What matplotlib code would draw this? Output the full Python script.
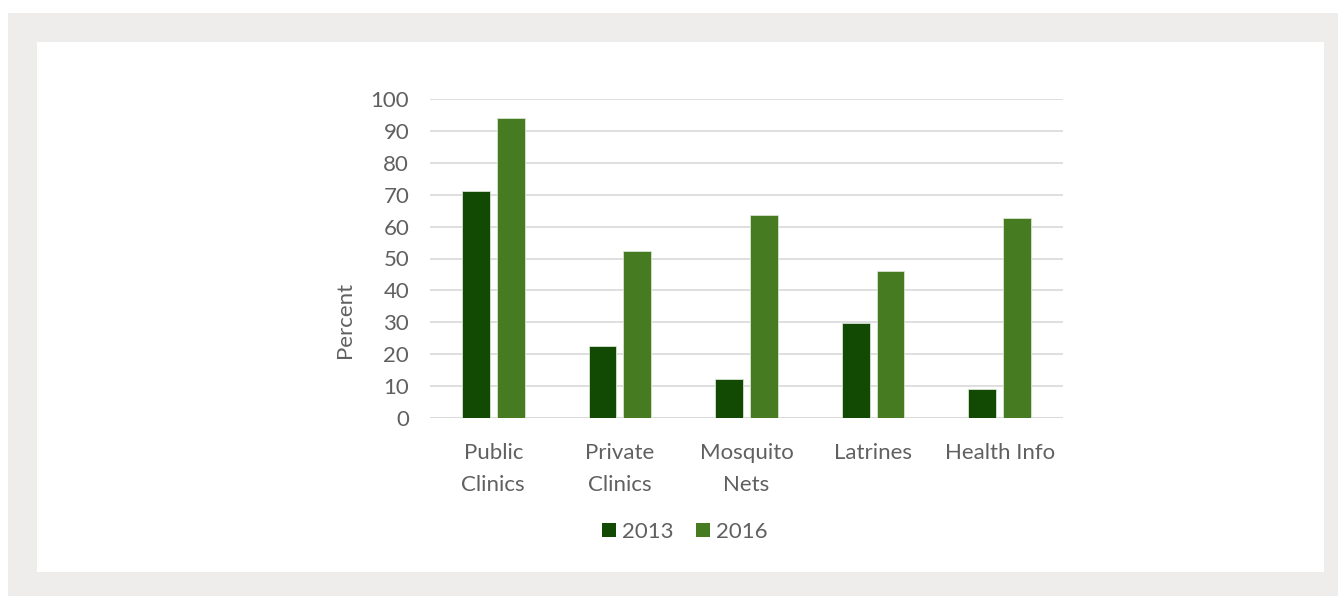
import matplotlib
matplotlib.use("Agg")
import matplotlib.pyplot as plt
import numpy as np
from matplotlib.patches import Rectangle, Patch

# data
categories = ["Public\nClinics", "Private\nClinics", "Mosquito\nNets", "Latrines", "Health Info"]
years = ["2013", "2016"]
vals_2013 = [71.2, 22.6, 12.2, 29.8, 9.2]
vals_2016 = [94.0, 52.2, 63.5, 46.2, 62.8]

col_2013 = "#124A04"
col_2016 = "#477B22"
txt = "#606060"

plt.rcParams["font.family"] = ["Lato", "DejaVu Sans"]
plt.rcParams["font.weight"] = "normal"

W, H = 1338, 596
fig = plt.figure(figsize=(W / 100, H / 100), dpi=100, facecolor="white")

# grey frame + white card
fig.patches.append(Rectangle((8 / W, 0), 1 - 8 / W, 1 - 13 / H, transform=fig.transFigure,
                             facecolor="#EEEDEB", edgecolor="none", zorder=-10))
fig.patches.append(Rectangle((37 / W, 24 / H), (1324 - 37) / W, (572 - 42) / H,
                             transform=fig.transFigure, facecolor="white",
                             edgecolor="none", zorder=-9))

ax = fig.add_axes([430 / W, 1 - 418 / H, (1063 - 430) / W, (418 - 99) / H])
ax.set_facecolor("none")

x = np.arange(len(categories))
bw = 0.22
off = 0.138
ax.bar(x - off, vals_2013, bw, color=col_2013, edgecolor="#d8e4d0", linewidth=0.6, zorder=3, label=years[0])
ax.bar(x + off, vals_2016, bw, color=col_2016, edgecolor="#d8e4d0", linewidth=0.6, zorder=3, label=years[1])

ax.set_xlim(-0.5, len(categories) - 0.5)
ax.set_ylim(0, 100)
ax.set_yticks(np.arange(0, 101, 10))
ax.yaxis.grid(True, color="#D9D9D9", linewidth=1.2, zorder=0)
ax.set_axisbelow(True)
for s in ax.spines.values():
    s.set_visible(False)
ax.axhline(0, color="#D9D9D9", linewidth=1.2, zorder=1)

ax.set_xticks(x)
ax.set_xticklabels(categories, linespacing=1.75)
ax.tick_params(axis="both", length=0, labelsize=16, labelcolor=txt)
ax.tick_params(axis="x", pad=18)
ax.tick_params(axis="y", pad=15)

ax.set_ylabel("Percent", fontsize=16, color=txt)
ax.yaxis.set_label_coords(-0.118, 0.307)

handles = [Patch(facecolor=col_2013), Patch(facecolor=col_2016)]
fig.legend(handles, years, loc="center", bbox_to_anchor=(685 / W, 1 - 532 / H),
           ncol=2, frameon=False, fontsize=16, labelcolor=txt,
           handlelength=0.62, handleheight=0.62, handletextpad=0.3, columnspacing=1.0)

fig.savefig("out.png", dpi=100, facecolor="white")
